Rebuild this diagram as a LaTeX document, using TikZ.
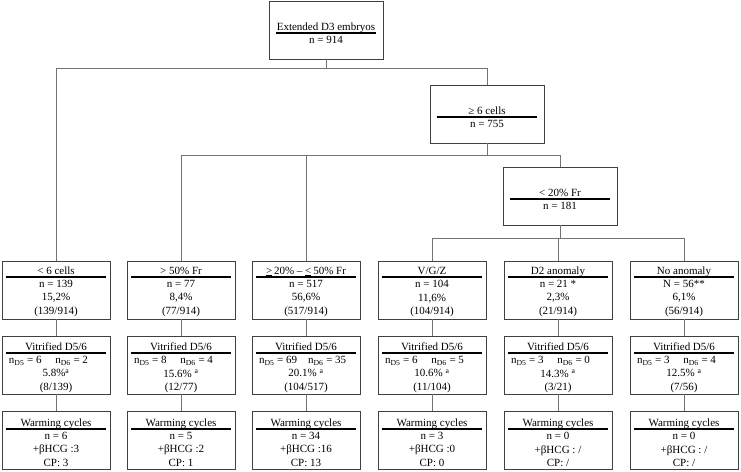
\documentclass[tikz,border=0pt]{standalone}
\usepackage{fontspec}
\setmainfont{Liberation Serif}
\usetikzlibrary{calc}
\tikzset{
  boxst/.style={draw=black!75, line width=0.8pt, rectangle, minimum height=58pt, inner sep=0pt},
  sepline/.style={black, line width=1.3pt},
  conn/.style={draw=black!55, line width=0.9pt},
  txt/.style={font=\fontsize{11}{13.5}\selectfont, inner sep=0pt, align=center},
}
\newcommand\mybox[8]{%
  % #1 name, #2 cx, #3 top, #4 line offset, #5 title, #6 body, #7 half width of line, #8 half width of box
  \node[boxst, minimum width=2*#8pt] (#1) at (#2,#3+29) {};
  \draw[sepline] (#2-#7,#3+#4) -- (#2+#7,#3+#4);
  \node[txt, anchor=base] (#1t) at (#2,#3+#4-3) {#5};
  \node[txt, anchor=north] (#1b) at (#2,#3+#4+3) {#6};
}
\newcommand\myvitline[2]{\makebox[94pt][l]{#1}\\#2}
\begin{document}
\begin{tikzpicture}[x=1pt,y=-1pt]
\useasboundingbox (0,0) rectangle (741,471);
% top levels
\mybox{top}{326}{1}{32}{Extended D3 embryos}{n = 914}{50}{57}
\mybox{ge}{487}{85}{32}{≥ 6 cells}{n = 755}{50}{57}
\mybox{lt}{560}{167}{32}{< 20\% Fr}{n = 181}{50}{57}
% row 1
\mybox{a1}{56}{261}{16}{< 6 cells}{n = 139\\15,2\%\\(139/914)}{50}{54}
\mybox{b1}{181}{261}{16}{> 50\% Fr}{n = 77\\8,4\%\\(77/914)}{50}{54}
\mybox{c1}{306}{261}{16}{\underline{>}\,20\% -- \underline{<}\,50\% Fr}{n = 517\\56,6\%\\(517/914)}{50}{54}
\mybox{d1}{432}{261}{16}{V/G/Z}{n = 104\\11,6\%\\(104/914)}{50}{54}
\mybox{e1}{558}{261}{16}{D2 anomaly}{n = 21 *\\2,3\%\\(21/914)}{50}{54}
\mybox{f1}{684}{261}{16}{No anomaly}{N = 56**\\6,1\%\\(56/914)}{50}{54}
% row 2
\mybox{a2}{56}{336}{17}{Vitrified D5/6}{\myvitline{n\textsubscript{D5} = 6\quad\ n\textsubscript{D6} = 2}{5.8\%\textsuperscript{a}\\(8/139)}}{50}{54}
\mybox{b2}{181}{336}{17}{Vitrified D5/6}{\myvitline{n\textsubscript{D5} = 8\quad\ n\textsubscript{D6} = 4}{15.6\% \textsuperscript{a}\\(12/77)}}{50}{54}
\mybox{c2}{306}{336}{17}{Vitrified D5/6}{\myvitline{n\textsubscript{D5} = 69\quad n\textsubscript{D6} = 35}{20.1\% \textsuperscript{a}\\(104/517)}}{50}{54}
\mybox{d2}{432}{336}{17}{Vitrified D5/6}{\myvitline{n\textsubscript{D5} = 6\quad\ n\textsubscript{D6} = 5}{10.6\% \textsuperscript{a}\\(11/104)}}{50}{54}
\mybox{e2}{558}{336}{17}{Vitrified D5/6}{\myvitline{n\textsubscript{D5} = 3\quad\ n\textsubscript{D6} = 0}{14.3\% \textsuperscript{a}\\(3/21)}}{50}{54}
\mybox{f2}{684}{336}{17}{Vitrified D5/6}{\myvitline{n\textsubscript{D5} = 3\quad\ n\textsubscript{D6} = 4}{12.5\% \textsuperscript{a}\\(7/56)}}{50}{54}
% row 3
\mybox{a3}{56}{411}{18}{Warming cycles}{n = 6\\+βHCG :3\\CP: 3}{50}{54}
\mybox{b3}{181}{411}{18}{Warming cycles}{n = 5\\+βHCG :2\\CP: 1}{50}{54}
\mybox{c3}{306}{411}{18}{Warming cycles}{n = 34\\+βHCG :16\\CP: 13}{50}{54}
\mybox{d3}{432}{411}{18}{Warming cycles}{n = 3\\+βHCG :0\\CP: 0}{50}{54}
\mybox{e3}{558}{411}{18}{Warming cycles}{n = 0\\+βHCG : /\\CP: /}{50}{54}
\mybox{f3}{684}{411}{18}{Warming cycles}{n = 0\\+βHCG : /\\CP: /}{50}{54}
% connectors
\coordinate (j1) at (326,68);
\coordinate (j2) at (487,155);
\coordinate (j3) at (560,238);
\draw[conn] (top.south) -- (j1) -| (a1.north);
\draw[conn] (j1) -| (ge.north);
\draw[conn] (ge.south) -- (j2) -| (b1.north);
\draw[conn] (j2 -| c1.north) -- (c1.north);
\draw[conn] (j2) -| (lt.north);
\draw[conn] (lt.south) -- (j3) -| (d1.north);
\draw[conn] (j3 -| e1.north) -- (e1.north);
\draw[conn] (j3) -| (f1.north);
\foreach \c in {a,b,c,d,e,f}{
  \draw[conn] (\c1.south) -- (\c2.north);
  \draw[conn] (\c2.south) -- (\c3.north);
}
\end{tikzpicture}
\end{document}
